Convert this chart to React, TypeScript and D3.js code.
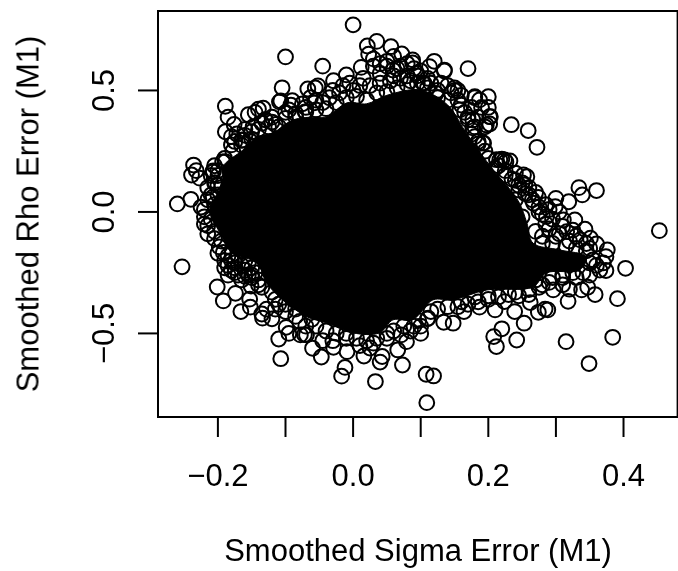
import React from "react";
import * as d3 from "d3";

const xTicks = [-0.2, -0.1, 0, 0.1, 0.2, 0.3, 0.4];
const xLabels = [-0.2, 0, 0.2, 0.4];
const yLabels = [-0.5, 0, 0.5];

// Overplotted region that is solid black in the picture: [sigma, rho]
const solidOutline: [number, number][] = [
  [-0.193,0.185],[-0.163,0.255],[-0.142,0.309],[-0.119,0.325],[-0.089,0.379],[-0.054,0.391],[-0.039,0.391],[-0.009,0.449],
  [0.02,0.445],[0.05,0.48],[0.099,0.502],[0.14,0.44],[0.165,0.335],[0.183,0.265],[0.205,0.18],[0.227,0.11],[0.246,0.037],
  [0.257,-0.045],[0.266,-0.128],[0.305,-0.156],[0.345,-0.185],[0.335,-0.239],[0.286,-0.251],[0.266,-0.309],[0.198,-0.321],
  [0.147,-0.362],[0.118,-0.362],[0.088,-0.444],[0.059,-0.444],[0.039,-0.498],[0,-0.498],[-0.039,-0.457],[-0.068,-0.432],
  [-0.104,-0.362],[-0.128,-0.292],[-0.142,-0.21],[-0.179,-0.169],[-0.197,-0.086],[-0.212,0.008],[-0.193,0.119],
];

const topPoints: [number, number][] = [
  [0,0.77],[-0.1,0.638],[-0.045,0.6],[0.021,0.683],[0.035,0.702],[0.023,0.649],[0.056,0.68],[0.072,0.65],[0.088,0.626],
  [-0.105,0.511],[-0.109,0.453],[-0.107,0.457],[-0.09,0.458],[-0.092,0.44],[-0.189,0.435],[-0.185,0.39],[-0.067,0.506],[-0.052,0.519],[-0.056,0.51],
  [-0.029,0.54],[-0.01,0.564],[0.012,0.595],[-0.155,0.4],[-0.14,0.423],[-0.133,0.427],[-0.145,0.41],[-0.189,0.33],[-0.172,0.321],
  [-0.18,0.31],[-0.165,0.295],[-0.15,0.33],[-0.13,0.38],[-0.12,0.39],[-0.115,0.36],[-0.1,0.41],[-0.085,0.39],[-0.07,0.43],[-0.063,0.47],
  [-0.045,0.45],[-0.03,0.5],[-0.015,0.52],[-0.005,0.53],[0.015,0.55],[0.03,0.6],[0.04,0.57],[0.05,0.62],[0.065,0.59],[0.08,0.56],
  [0.1,0.58],[0.11,0.55],[0.12,0.62],[0.135,0.58],[0.17,0.59],[0.105,0.53],[0.125,0.5],[0.14,0.52],[0.15,0.5],[0.155,0.46],[0.18,0.47],[0.2,0.43],[0.165,0.41],
  [0.19,0.43],[0.202,0.362],[0.203,0.392],[0.193,0.283],[0.18,0.35],[0.17,0.38],[-0.176,0.36],[-0.16,0.34],
  [0.03,0.63],[0.04,0.61],[0.05,0.6],[0.06,0.64],[0.07,0.6],[0.08,0.61],[0.09,0.59],[0.06,0.56],
  [0.135,0.584],[0.15,0.51],[0.155,0.5],[0.123,0.488],[0.18,0.474],[0.2,0.474],[0.187,0.461],[0.202,0.392],[0.197,0.358],[0.177,0.379],[0.192,0.284],[0.217,0.214],[0.224,0.214],[0.177,0.346],[0.158,0.42],
  [0.113,0.598],[0.094,0.571],[0.059,0.584],[0.088,0.613],[0.103,0.531],
  [-0.18,0.276],[-0.163,0.296],[-0.148,0.35],[-0.13,0.379],[-0.057,0.449],[-0.071,0.412],[-0.193,0.206],[-0.207,0.165],[-0.204,0.119],[-0.2,0.11],[-0.207,0.062],[-0.185,0.1],
];

const topBand: [number, number][] = [
  [-0.205,0.19],[-0.19,0.22],[-0.178,0.25],[-0.165,0.275],[-0.15,0.3],[-0.14,0.34],[-0.125,0.35],[-0.11,0.35],[-0.1,0.385],[-0.085,0.405],[-0.07,0.41],[-0.055,0.42],
  [-0.04,0.425],[-0.025,0.45],[-0.01,0.47],[0.005,0.475],[0.02,0.46],[0.035,0.49],[0.05,0.495],[0.065,0.51],[0.08,0.525],[0.095,0.53],[0.11,0.51],[0.125,0.47],[0.14,0.46],[0.16,0.44],[0.17,0.39],
  [-0.175,0.29],[-0.16,0.315],[-0.135,0.365],[-0.12,0.37],[-0.095,0.42],[-0.075,0.445],[-0.055,0.46],[-0.035,0.47],[-0.02,0.49],[0,0.5],[0.01,0.52],[0.025,0.52],[0.04,0.53],[0.055,0.54],[0.07,0.55],[0.085,0.54],[0.095,0.56],
  [0.115,0.53],[0.13,0.53],[0.145,0.49],[0.16,0.48],[0.175,0.43],[0.185,0.39],[0.195,0.35],[0.18,0.31],[0.185,0.28],
];

const leftPoints: [number, number][] = [
  [-0.236,0.193],[-0.239,0.152],[-0.227,0.139],[-0.232,0.17],[-0.207,0.169],[-0.189,0.207],[-0.2,0.15],[-0.24,0.052],[-0.26,0.033],[-0.195,0.1],
  [-0.215,0.05],[-0.22,0.01],[-0.205,0.03],[-0.2,0.07],[-0.21,-0.03],[-0.215,-0.056],[-0.22,-0.05],[-0.205,-0.08],[-0.195,-0.12],
  [-0.253,-0.226],[-0.198,-0.144],[-0.192,-0.167],[-0.18,-0.2],[-0.175,-0.23],[-0.17,-0.26],[-0.155,-0.21],[-0.16,-0.24],[-0.145,-0.25],[-0.14,-0.28],
  [-0.165,-0.28],[-0.185,-0.26],
  [-0.17,-0.18],[-0.185,-0.18],[-0.19,-0.2],[-0.2,-0.17],[-0.205,-0.11],[-0.215,-0.09],[-0.22,-0.02],[-0.225,0.02],[-0.21,0.07],[-0.215,0.1],[-0.205,0.12],[-0.21,0.15],[-0.2,0.17],
  [-0.175,-0.21],[-0.16,-0.2],[-0.19,-0.23],[-0.175,-0.25],[-0.165,-0.22],[-0.185,-0.22],[-0.15,-0.23],[-0.15,-0.26],[-0.16,-0.265],[-0.18,-0.24],
];

const bottomPoints: [number, number][] = [
  [-0.201,-0.309],[-0.192,-0.366],[-0.174,-0.335],[-0.166,-0.41],[-0.153,-0.359],[-0.152,-0.392],[-0.151,-0.305],[-0.134,-0.437],[-0.128,-0.4],[-0.135,-0.42],[-0.115,-0.4],
  [-0.11,-0.523],[-0.107,-0.604],[-0.099,-0.475],[-0.095,-0.5],[-0.085,-0.43],[-0.078,-0.506],[-0.069,-0.506],[-0.072,-0.505],[-0.06,-0.561],[-0.047,-0.597],[-0.017,-0.676],[-0.012,-0.64],
  [0.033,-0.698],[0.04,-0.618],[0.043,-0.595],[0.016,-0.593],[-0.009,-0.575],[-0.029,-0.557],[0.073,-0.63],[0.066,-0.568],[0.079,-0.534],[0.071,-0.506],[-0.061,-0.442],[-0.079,-0.451],
  [0.109,-0.785],[0.108,-0.668],[0.119,-0.675],[-0.045,-0.53],[-0.03,-0.53],[-0.01,-0.52],[0.01,-0.55],[0.025,-0.56],[0.03,-0.54],[0.05,-0.52],[-0.12,-0.44],[-0.11,-0.38],[-0.1,-0.41],
  [0.097,-0.447],[0.111,-0.437],[0.134,-0.454],[0.148,-0.458],[0.164,-0.41],[0.187,-0.392],[0.1,-0.5],[0.085,-0.49],
];

const bottomBand: [number, number][] = [
  [0.35,-0.21],[0.34,-0.25],[0.325,-0.25],[0.31,-0.26],[0.295,-0.27],[0.29,-0.29],[0.275,-0.31],[0.26,-0.32],[0.245,-0.345],[0.23,-0.34],[0.215,-0.35],[0.2,-0.345],[0.185,-0.37],[0.17,-0.38],[0.155,-0.39],
  [0.14,-0.39],[0.125,-0.4],[0.115,-0.41],[0.11,-0.44],[0.1,-0.47],[0.09,-0.47],[0.075,-0.47],[0.06,-0.49],[0.05,-0.5],[0.035,-0.52],[0.02,-0.53],[0.005,-0.52],[-0.01,-0.5],[-0.025,-0.5],[-0.04,-0.49],
  [-0.055,-0.47],[-0.07,-0.47],[-0.085,-0.4],[-0.1,-0.38],[-0.115,-0.36],[-0.12,-0.33],[-0.135,-0.31],[-0.14,-0.3],[-0.15,-0.27],[-0.155,-0.26],
];

const tailPoints: [number, number][] = [
  [0.212,-0.554],[0.208,-0.513],[0.22,-0.481],[0.242,-0.527],[0.253,-0.458],[0.315,-0.534],[0.349,-0.624],[0.384,-0.516],[0.391,-0.357],[0.358,-0.34],[0.318,-0.368],
  [0.288,-0.403],[0.274,-0.413],[0.284,-0.4],[0.239,-0.41],[0.21,-0.403],[0.262,-0.373],[0.224,-0.369],[0.32,-0.318],[0.347,-0.31],[0.338,-0.321],[0.296,-0.321],
  [0.453,-0.077],[0.403,-0.232],[0.374,-0.241],[0.365,-0.239],[0.374,-0.184],[0.376,-0.156],[0.36,-0.132],[0.351,-0.108],[0.343,-0.071],[0.328,-0.033],
  [0.319,0.042],[0.3,0.056],[0.299,0.022],[0.36,0.088],[0.339,0.07],[0.334,0.1],[0.274,0.06],[0.267,0.036],[0.257,0.145],[0.254,0.111],[0.252,0.152],
  [0.272,0.266],[0.259,0.335],[0.234,0.359],[0.232,0.21],[0.22,0.217],[0.226,0.206],[0.212,0.215],[0.24,0.13],[0.225,0.15],[0.21,0.18],[0.245,0.09],[0.26,0.07],
  [0.286,-0.019],[0.311,-0.033],[0.316,-0.081],[0.29,-0.07],[0.355,-0.197],[0.336,-0.115],[0.32,-0.12],[0.3,-0.1],[0.275,0],[0.27,-0.08],[0.28,-0.13],
  [0.36,-0.22],[0.37,-0.21],[0.35,-0.26],[0.33,-0.27],[0.31,-0.3],[0.28,-0.3],[0.26,-0.34],[0.24,-0.33],[0.2,-0.36],[0.18,-0.35],[0.16,-0.37],[0.345,-0.16],[0.31,-0.27],[0.27,-0.28],
  [0.24,0.05],[0.25,-0.02],
];

const shoulderBand: [number, number][] = [
  [0.175,0.32],[0.185,0.29],[0.195,0.25],[0.2,0.22],[0.215,0.19],[0.225,0.17],[0.235,0.135],[0.245,0.11],[0.255,0.075],[0.265,0.05],[0.275,0.02],[0.28,-0.01],[0.285,-0.05],[0.295,-0.03],[0.305,0],
  [0.31,-0.06],[0.305,-0.09],[0.325,-0.075],[0.33,-0.1],[0.345,-0.13],[0.33,-0.15],[0.35,-0.15],[0.315,-0.14],[0.295,-0.13],[0.28,-0.1],[0.25,0.12],[0.24,0.16],[0.26,0.1],[0.27,0.08],[0.285,0.03],[0.29,0.01],
];

const width = 678, height = 571;
const x = d3.scaleLinear().domain([-0.2886, 0.48]).range([158, 677.6]);
const y = d3.scaleLinear().domain([-0.844, 0.827]).range([417, 11]);
const FONT = "'Liberation Sans', Arimo, Helvetica, sans-serif";
const outlinePath = d3.line<[number, number]>().x(d => x(d[0])).y(d => y(d[1])).curve(d3.curveCatmullRomClosed)(solidOutline) as string;
const allPoints = [...topPoints, ...topBand, ...leftPoints, ...bottomPoints, ...bottomBand, ...tailPoints, ...shoulderBand];
const fmt = (v: number) => (v < 0 ? "\u2212" : "") + Math.abs(v).toFixed(1);

export default function App() {
  return (
    <svg width={width} height={height} style={{ position: "absolute", left: 0, top: 0, background: "#fff" }}>
      <defs>
        <filter id="soft" x="-5%" y="-5%" width="110%" height="110%">
          <feGaussianBlur stdDeviation="0.45" />
        </filter>
      </defs>
      <g filter="url(#soft)">
        <path d={outlinePath} fill="#000" stroke="#000" />
        {allPoints.map((d, i) => (
          <circle key={i} cx={x(d[0])} cy={y(d[1])} r={7.4} fill="none" stroke="#000" strokeWidth={2} />
        ))}
        <rect x={158} y={11} width={519.6} height={406} fill="none" stroke="#000" strokeWidth={2} />
        {xTicks.map(t => <line key={t} x1={x(t)} x2={x(t)} y1={417} y2={437} stroke="#000" strokeWidth={2} />)}
        {yLabels.map(t => <line key={t} x1={158} x2={138} y1={y(t)} y2={y(t)} stroke="#000" strokeWidth={2} />)}
        <g fontFamily={FONT} fontSize={31} fill="#000">
          {xLabels.map(t => <text key={t} x={x(t)} y={486} textAnchor="middle">{fmt(t)}</text>)}
          {yLabels.map(t => <text key={t} transform={`translate(113.5,${y(t)}) rotate(-90)`} textAnchor="middle">{fmt(t)}</text>)}
          <text x={418} y={561} textAnchor="middle">Smoothed Sigma Error (M1)</text>
          <text transform="translate(38.5,214) rotate(-90)" textAnchor="middle">Smoothed Rho Error (M1)</text>
        </g>
      </g>
    </svg>
  );
}
